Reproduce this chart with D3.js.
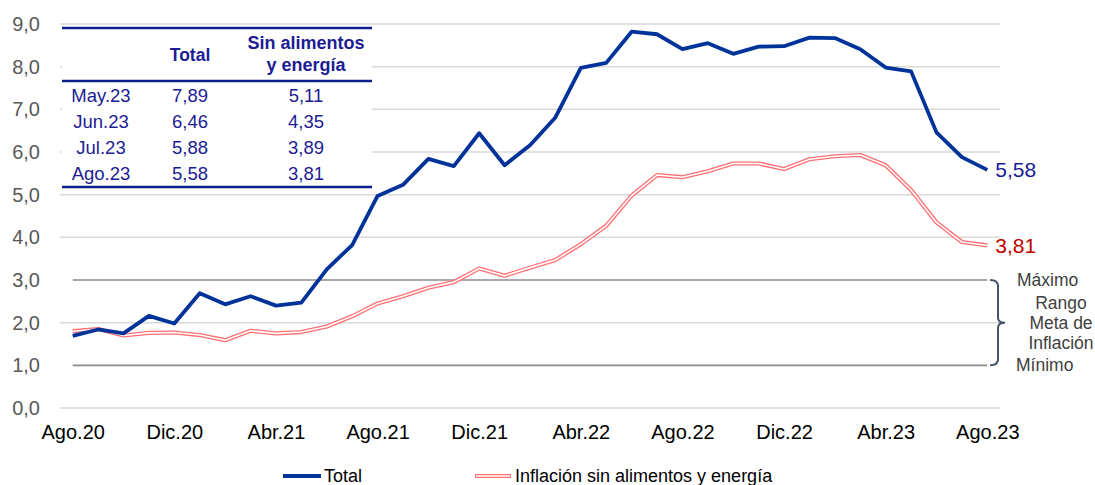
<!DOCTYPE html>
<html><head><meta charset="utf-8">
<script src="https://cdn.jsdelivr.net/npm/d3@7"></script>
<style>
body{margin:0;background:#fff;}
svg{display:block;font-family:"Liberation Sans",Arial,sans-serif;}
</style></head>
<body>
<svg id="chart" width="1095" height="485"></svg>
<script>
const months = ["Ago.20","Sep.20","Oct.20","Nov.20","Dic.20","Ene.21","Feb.21","Mar.21","Abr.21","May.21","Jun.21","Jul.21",
"Ago.21","Sep.21","Oct.21","Nov.21","Dic.21","Ene.22","Feb.22","Mar.22","Abr.22","May.22","Jun.22","Jul.22",
"Ago.22","Sep.22","Oct.22","Nov.22","Dic.22","Ene.23","Feb.23","Mar.23","Abr.23","May.23","Jun.23","Jul.23","Ago.23"];
const total = [1.69,1.84,1.75,2.16,1.98,2.69,2.43,2.62,2.40,2.47,3.25,3.82,
4.97,5.23,5.84,5.67,6.44,5.69,6.16,6.81,7.97,8.09,8.82,8.76,
8.41,8.55,8.30,8.47,8.48,8.68,8.67,8.41,7.98,7.89,6.46,5.88,5.58];
const core = [1.80,1.85,1.70,1.76,1.77,1.71,1.59,1.81,1.75,1.78,1.91,2.15,
2.45,2.62,2.82,2.95,3.27,3.10,3.29,3.47,3.84,4.27,4.98,5.46,
5.41,5.55,5.73,5.73,5.60,5.83,5.90,5.93,5.69,5.11,4.35,3.89,3.81];
const xTickLabels = ["Ago.20","Dic.20","Abr.21","Ago.21","Dic.21","Abr.22","Ago.22","Dic.22","Abr.23","Ago.23"];
const yTicks = [0,1,2,3,4,5,6,7,8,9];
const targetRange = [1,3];
const tableHeader = ["", "Total", ["Sin alimentos","y energía"]];
const tableMonths = ["May.23","Jun.23","Jul.23","Ago.23"];
const tableTotal = ["7,89","6,46","5,88","5,58"];
const tableCore = ["5,11","4,35","3,89","3,81"];
const rangeLabels = ["Máximo","Rango","Meta de","Inflación","Mínimo"];
const legendLabels = ["Total","Inflación sin alimentos y energía"];

const svg = d3.select("#chart");
const locale = d3.formatLocale({decimal:",",thousands:".",grouping:[3],currency:["$",""]});
const fmt1 = locale.format(".1f");
const fmt2 = locale.format(".2f");

const x = d3.scalePoint().domain(months).range([60,1000]).padding(0.5);
const y = d3.scaleLinear().domain([0,9]).range([408,24]);

const BLUE = "#003399", RED = "#ff6f73";

// gridlines
svg.append("g").selectAll("line").data(yTicks.filter(v=>!targetRange.includes(v))).join("line")
  .attr("x1",60).attr("x2",1000).attr("y1",d=>y(d)).attr("y2",d=>y(d))
  .attr("stroke","#d9d9d9").attr("stroke-width",1.5);
svg.append("g").selectAll("line").data(targetRange).join("line")
  .attr("x1",x(months[0])).attr("x2",x(months[months.length-1])).attr("y1",d=>y(d)).attr("y2",d=>y(d))
  .attr("stroke","#8c8c8c").attr("stroke-width",1.6);

// y axis
const yAxis = svg.append("g").attr("transform","translate(60,0)")
  .call(d3.axisLeft(y).tickValues(yTicks).tickSize(0).tickPadding(20).tickFormat(fmt1));
yAxis.select(".domain").remove();
yAxis.selectAll("text").attr("font-size",20).attr("fill","#595959").attr("font-family","Liberation Sans, Arial, sans-serif");

// x axis
const xAxis = svg.append("g").attr("transform","translate(0,408)")
  .call(d3.axisBottom(x).tickValues(xTickLabels).tickSize(0).tickPadding(17));
xAxis.select(".domain").remove();
xAxis.selectAll("text").attr("font-size",20).attr("fill","#000").attr("font-family","Liberation Sans, Arial, sans-serif");

// lines
const line = d3.line().x((d,i)=>x(months[i])).y(d=>y(d));
svg.append("path").datum(core).attr("d",line).attr("fill","none").attr("stroke",RED).attr("stroke-width",4.2).attr("stroke-linejoin","round");
svg.append("path").datum(core).attr("d",line).attr("fill","none").attr("stroke","#fff").attr("stroke-width",1.6).attr("stroke-linejoin","round");
svg.append("path").datum(total).attr("d",line).attr("fill","none").attr("stroke",BLUE).attr("stroke-width",3.8).attr("stroke-linejoin","round");

// end labels
const last = months.length-1;
svg.append("text").attr("x",x(months[last])+8).attr("y",y(total[last])).attr("dy","0.35em")
  .attr("font-size",21).attr("fill","#1a1a99").text(fmt2(total[last]));
svg.append("text").attr("x",x(months[last])+8).attr("y",y(core[last])).attr("dy","0.35em")
  .attr("font-size",21).attr("fill","#c00000").text(fmt2(core[last]));

// range bracket
const yTop = y(targetRange[1]), yBot = y(targetRange[0]), yMid = (yTop+yBot)/2;
const bx = 998;
svg.append("path").attr("d",
  `M${bx-8},${yTop} Q${bx},${yTop} ${bx},${yTop+6} L${bx},${yMid-5} Q${bx},${yMid} ${bx+7},${yMid} Q${bx},${yMid} ${bx},${yMid+5} L${bx},${yBot-6} Q${bx},${yBot} ${bx-8},${yBot}`)
  .attr("fill","none").attr("stroke","#44546a").attr("stroke-width",2);
const rl = svg.append("g").attr("font-size",17.5).attr("fill","#404040");
rl.append("text").attr("x",1017).attr("y",yTop).attr("dy","0.35em").text(rangeLabels[0]);
rl.append("text").attr("x",1061).attr("y",yMid-20).attr("dy","0.35em").attr("text-anchor","middle").text(rangeLabels[1]);
rl.append("text").attr("x",1061).attr("y",yMid).attr("dy","0.35em").attr("text-anchor","middle").text(rangeLabels[2]);
rl.append("text").attr("x",1061).attr("y",yMid+20).attr("dy","0.35em").attr("text-anchor","middle").text(rangeLabels[3]);
rl.append("text").attr("x",1016).attr("y",yBot).attr("dy","0.35em").text(rangeLabels[4]);

// table
const TBL = "#0d1f8c", TTX = "#1c1c94";
const tg = svg.append("g");
tg.append("rect").attr("x",62).attr("y",28).attr("width",310).attr("height",159).attr("fill","#fff");
[28,81,187].forEach(yy=>tg.append("line").attr("x1",62).attr("x2",372).attr("y1",yy).attr("y2",yy).attr("stroke",TBL).attr("stroke-width",2.4));
const colX = [101,190,306];
tg.append("text").attr("x",colX[1]).attr("y",55).attr("dy","0.35em").attr("text-anchor","middle")
  .attr("font-size",17.5).attr("font-weight","bold").attr("fill",TTX).text(tableHeader[1]);
tg.append("text").attr("x",colX[2]).attr("y",43).attr("dy","0.35em").attr("text-anchor","middle")
  .attr("font-size",18).attr("font-weight","bold").attr("fill",TTX).text(tableHeader[2][0]);
tg.append("text").attr("x",colX[2]).attr("y",65).attr("dy","0.35em").attr("text-anchor","middle")
  .attr("font-size",18).attr("font-weight","bold").attr("fill",TTX).text(tableHeader[2][1]);
const rowY = [96,122,148,174];
tableMonths.forEach((m,i)=>{
  [m, tableTotal[i], tableCore[i]].forEach((t,j)=>{
    tg.append("text").attr("x",colX[j]).attr("y",rowY[i]).attr("dy","0.35em").attr("text-anchor","middle")
      .attr("font-size",18.5).attr("fill",TTX).text(t);
  });
});

// legend
const LY = 476;
const lg = svg.append("g");
lg.append("line").attr("x1",283).attr("x2",321).attr("y1",LY).attr("y2",LY).attr("stroke",BLUE).attr("stroke-width",3.8);
lg.append("text").attr("x",324).attr("y",LY).attr("dy","0.35em").attr("font-size",18).attr("fill","#000").text(legendLabels[0]);
lg.append("line").attr("x1",475).attr("x2",511).attr("y1",LY).attr("y2",LY).attr("stroke",RED).attr("stroke-width",4.2);
lg.append("line").attr("x1",476).attr("x2",510).attr("y1",LY).attr("y2",LY).attr("stroke","#fff").attr("stroke-width",1.6);
lg.append("text").attr("x",515).attr("y",LY).attr("dy","0.35em").attr("font-size",18).attr("fill","#000").text(legendLabels[1]);
</script>
</body></html>
